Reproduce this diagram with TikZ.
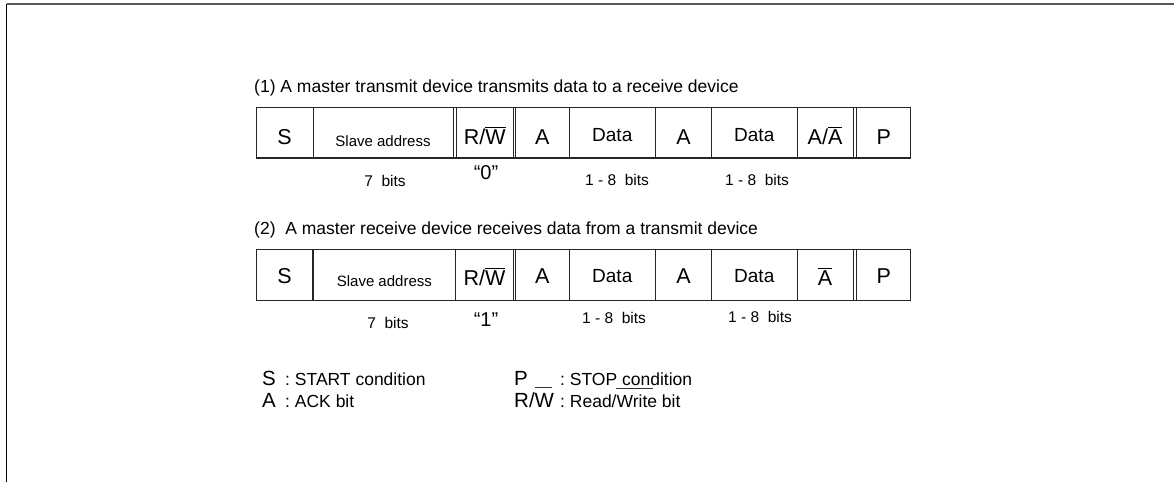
\documentclass[tikz,border=0pt]{standalone}
\usepackage{fontspec}
\setmainfont{Liberation Sans}
\newcommand\olbar[1]{\setbox0=\hbox{#1}\makebox[0pt][l]{\raisebox{\dimexpr\ht0+2.2pt\relax}{\rule{\wd0}{0.7pt}}}\box0}
\tikzset{
  cell/.style={draw=black!85, line width=0.9pt, minimum height=50.5pt, inner sep=0pt, outer sep=0pt},
  bigt/.style={inner sep=0pt, font=\fontsize{21.5}{21.5}\selectfont},
  datat/.style={inner sep=0pt, font=\fontsize{19}{19}\selectfont},
  slavet/.style={inner sep=0pt, font=\fontsize{15}{15}\selectfont},
  capt/.style={inner sep=0pt, anchor=west, font=\fontsize{17.5}{17.5}\selectfont},
  bitst/.style={inner sep=0pt, font=\fontsize{15.5}{15.5}\selectfont},
  quotet/.style={inner sep=0pt, font=\fontsize{20}{20}\selectfont},
  legl/.style={inner sep=0pt, anchor=base west, font=\fontsize{20.5}{20.5}\selectfont},
  legt/.style={inner sep=0pt, anchor=base west, font=\fontsize{17.5}{17.5}\selectfont},
  edge/.style={draw=black!85, line width=0.9pt},
}
\begin{document}
\begin{tikzpicture}[x=1pt,y=-1pt]
\useasboundingbox (0,0) rectangle (1174,482);
\coordinate (ftl) at (6.5,4);
\coordinate (ftr) at (1174,4);
\coordinate (fbl) at (6.5,482);
\draw[black!65, line width=2.2pt] (ftl) -- (ftr);
\draw[black, line width=1.8pt] (fbl) -- (ftl);

% ---------- row 1 ----------
\node[capt] (cap1) at (254,88) {(1) A master transmit device transmits data to a receive device};
\node[cell, minimum width=57pt]   (r1s)  at (284.5,132.75) {};
\node[cell, minimum width=140pt]  (r1sa) at (383,132.75) {};
\node[cell, minimum width=57.3pt] (r1rw) at (484.65,132.75) {};
\node[cell, minimum width=53.3pt] (r1a)  at (542.35,132.75) {};
\node[cell, minimum width=86.5pt] (r1d)  at (612.25,132.75) {};
\node[cell, minimum width=56pt]   (r1a2) at (683.5,132.75) {};
\node[cell, minimum width=85.5pt] (r1d2) at (754.25,132.75) {};
\node[cell, minimum width=56pt]   (r1aa) at (825,132.75) {};
\node[cell, minimum width=54pt]   (r1p)  at (883.7,132.75) {};
\draw[edge] (r1s.north west) -- (r1p.north east);
\draw[edge, line width=1.4pt] (r1s.south west) -- (r1p.south east);

\node[bigt]   (r1st)  at ([yshift=-4.5pt]r1s.center) {S};
\node[slavet] (r1sat) at ([yshift=-8pt]r1sa.center) {Slave address};
\node[bigt]   (r1rwt) at ([yshift=-3.5pt]r1rw.center) {R/\olbar{W}};
\node[bigt]   (r1at)  at ([yshift=-4.5pt]r1a.center) {A};
\node[datat]  (r1dt)  at ([yshift=-2pt]r1d.center) {Data};
\node[bigt]   (r1a2t) at ([yshift=-4.5pt]r1a2.center) {A};
\node[datat]  (r1d2t) at ([yshift=-2pt]r1d2.center) {Data};
\node[bigt]   (r1aat) at ([yshift=-3.5pt]r1aa.center) {A/\olbar{A}};
\node[bigt]   (r1pt)  at ([yshift=-4.5pt]r1p.center) {P};

\node[bitst]  (b1a) at (385,181) {7\ \ bits};
\node[quotet] (q1)  at (486,173) {“0”};
\node[bitst]  (b1b) at (617,180) {1 - 8\ \ bits};
\node[bitst]  (b1c) at (757,180) {1 - 8\ \ bits};

% ---------- row 2 ----------
\node[capt] (cap2) at (254,230) {(2)\ \ A master receive device receives data from a transmit device};
\node[cell, minimum width=57pt]    (r2s)  at (284.5,275) {};
\node[cell, minimum width=142.7pt] (r2sa) at (384.35,275) {};
\node[cell, minimum width=57.6pt]  (r2rw) at (484.5,275) {};
\node[cell, minimum width=53.3pt]  (r2a)  at (542.35,275) {};
\node[cell, minimum width=86.5pt]  (r2d)  at (612.25,275) {};
\node[cell, minimum width=56pt]    (r2a2) at (683.5,275) {};
\node[cell, minimum width=85.5pt]  (r2d2) at (754.25,275) {};
\node[cell, minimum width=56pt]    (r2aa) at (825,275) {};
\node[cell, minimum width=54pt]    (r2p)  at (883.7,275) {};
\draw[edge] (r2s.north west) -- (r2p.north east);
\draw[edge, line width=1.4pt] (r2s.south west) -- (r2p.south east);
\draw[edge, line width=1.6pt] (r2s.north east) -- (r2s.south east);

\node[bigt]   (r2st)  at ([yshift=-1.5pt]r2s.center) {S};
\node[slavet] (r2sat) at ([yshift=-6.5pt]r2sa.center) {Slave address};
\node[bigt]   (r2rwt) at ([yshift=-1.5pt]r2rw.center) {R/\olbar{W}};
\node[bigt]   (r2at)  at ([yshift=-1.5pt]r2a.center) {A};
\node[datat]  (r2dt)  at ([yshift=-1.5pt]r2d.center) {Data};
\node[bigt]   (r2a2t) at ([yshift=-1.5pt]r2a2.center) {A};
\node[datat]  (r2d2t) at ([yshift=-1.5pt]r2d2.center) {Data};
\node[bigt]   (r2aat) at ([yshift=-1.5pt]r2aa.center) {\olbar{A}};
\node[bigt]   (r2pt)  at ([yshift=-1.5pt]r2p.center) {P};

\node[bitst]  (b2a) at (388,322.7) {7\ \ bits};
\node[quotet] (q2)  at (486,320) {“1”};
\node[bitst]  (b2b) at (614,318) {1 - 8\ \ bits};
\node[bitst]  (b2c) at (760,316.7) {1 - 8\ \ bits};

% ---------- legend ----------
\node[legl] (ls) at (262,385) {S};
\node[legt] (lst) at (285,385) {:\ START condition};
\node[legl] (la) at (262,407) {A};
\node[legt] (lat) at (285,407) {:\ ACK bit};
\node[legl] (lp) at (514,385) {P};
\node[legt] (lpt) at (560,385) {:\ STOP condition};
\node[legl] (lrw) at (514,407) {R/W};
\node[legt] (lrwt) at (560,407) {:\ Read/Write bit};
\coordinate (o1a) at (535,387.5);
\coordinate (o1b) at (552,387.5);
\coordinate (o2a) at (616,388);
\coordinate (o2b) at (653,388);
\draw[black!80, line width=0.7pt] (o1a) -- (o1b);
\draw[black!80, line width=0.7pt] (o2a) -- (o2b);
\end{tikzpicture}
\end{document}
